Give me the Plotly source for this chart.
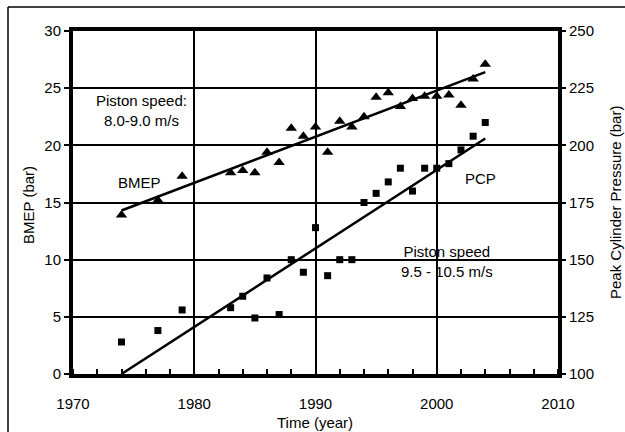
import plotly.graph_objects as go

# ---- data ----
bmep_years = [1974, 1977, 1979, 1983, 1984, 1985, 1986, 1987, 1988, 1989, 1990, 1991,
              1992, 1993, 1994, 1995, 1996, 1997, 1998, 1999, 2000, 2001, 2002, 2003, 2004]
bmep_values = [13.9, 15.2, 17.3, 17.6, 17.8, 17.6, 19.4, 18.5, 21.5, 20.8, 21.6, 19.4,
               22.1, 21.6, 22.5, 24.2, 24.6, 23.4, 24.1, 24.3, 24.3, 24.4, 23.5, 25.8, 27.1]

pcp_years = [1974, 1977, 1979, 1983, 1984, 1985, 1986, 1987, 1988, 1989, 1990, 1991,
             1992, 1993, 1994, 1995, 1996, 1997, 1998, 1999, 2000, 2001, 2002, 2003, 2004]
pcp_values = [114, 119, 128, 129, 134, 124.5, 142, 126, 150, 144.5, 164, 143,
              150, 150, 175, 179, 184, 190, 180, 190, 190, 192, 198, 204, 210]

trend_years = [1974, 2004]
bmep_trend = [14.3, 26.4]
pcp_trend = [100, 203]

x_ticks = [1970, 1980, 1990, 2000, 2010]
bmep_ticks = [0, 5, 10, 15, 20, 25, 30]
pcp_ticks = [100, 125, 150, 175, 200, 225, 250]

FONT = "Liberation Sans, Arial, Helvetica, sans-serif"
W, H = 625, 432
L, R, T, B = 73, 558, 31, 374

fig = go.Figure()
fig.add_trace(go.Scatter(x=trend_years, y=bmep_trend, mode="lines",
                         line=dict(color="black", width=2.5), showlegend=False))
fig.add_trace(go.Scatter(x=bmep_years, y=bmep_values, mode="markers",
                         marker=dict(symbol="triangle-up", size=10, color="black"),
                         showlegend=False))
fig.add_trace(go.Scatter(x=trend_years, y=pcp_trend, mode="lines", yaxis="y2",
                         line=dict(color="black", width=2.5), showlegend=False))
fig.add_trace(go.Scatter(x=pcp_years, y=pcp_values, mode="markers", yaxis="y2",
                         marker=dict(symbol="square", size=7, color="black"),
                         showlegend=False))


def px_x(px):
    return (px - L) / (R - L)


def px_y(py):
    return (B - py) / (B - T)


def dx(px):
    return 1970 + (px - L) * 40 / (R - L)


def dy(py):
    return (B - py) * 30 / (B - T)


annotations = [
    dict(x=dx(141), y=dy(110), text="Piston speed:<br>8.0-9.0 m/s"),
    dict(x=dx(139), y=dy(182), text="BMEP"),
    dict(x=dx(480), y=dy(178), text="PCP"),
    dict(x=dx(447), y=dy(261), text="Piston speed<br>9.5 - 10.5 m/s"),
]
for a in annotations:
    a.update(xref="x", yref="y", showarrow=False, font=dict(size=15, color="black", family=FONT),
             xanchor="center", yanchor="middle")

annotations += [
    dict(x=px_x(28), y=px_y(205), xref="paper", yref="paper", text="BMEP (bar)", textangle=-90,
         showarrow=False, font=dict(size=15, color="black", family=FONT),
         xanchor="center", yanchor="middle"),
    dict(x=px_x(615), y=px_y(203), xref="paper", yref="paper", text="Peak Cylinder Pressure (bar)",
         textangle=-90, showarrow=False, font=dict(size=15, color="black", family=FONT),
         xanchor="center", yanchor="middle"),
    dict(x=px_x(315), y=px_y(422), xref="paper", yref="paper", text="Time (year)",
         showarrow=False, font=dict(size=15, color="black", family=FONT),
         xanchor="center", yanchor="middle"),
]

fig.update_layout(
    width=W, height=H,
    margin=dict(l=L, r=W - R, t=T, b=H - B, pad=0),
    paper_bgcolor="white", plot_bgcolor="white",
    font=dict(family=FONT, size=15, color="black"),
    showlegend=False,
    annotations=annotations,
    xaxis=dict(range=[1970, 2010], tickvals=x_ticks, ticktext=[str(v) for v in x_ticks],
               showgrid=True, gridcolor="black", gridwidth=2,
               showline=True, linecolor="black", linewidth=4, mirror=True,
               ticks="outside", ticklen=0, ticklabelstandoff=13,
               minor=dict(dtick=2, tick0=1970, ticks="inside", ticklen=5, tickcolor="black",
                          tickwidth=1.5, showgrid=False),
               zeroline=False, tickfont=dict(size=15)),
    yaxis=dict(range=[0, 30], tickvals=bmep_ticks,
               showgrid=True, gridcolor="black", gridwidth=2,
               showline=True, linecolor="black", linewidth=4, mirror=True,
               ticks="outside", ticklen=5, tickwidth=1.5, tickcolor="black",
               zeroline=False, tickfont=dict(size=15)),
    yaxis2=dict(range=[100, 250], tickvals=pcp_ticks, overlaying="y", side="right",
                showgrid=False, showline=False, zeroline=False,
                ticks="outside", ticklen=7, tickwidth=1.5, tickcolor="black",
                tickfont=dict(size=15)),
)

# outer figure frame (top and left edges, as in the scanned original)
fig.add_shape(type="line", xref="paper", yref="paper", layer="above",
              x0=px_x(8), x1=px_x(630), y0=px_y(7), y1=px_y(7),
              line=dict(color="black", width=1.5))
fig.add_shape(type="line", xref="paper", yref="paper", layer="above",
              x0=px_x(8), x1=px_x(8), y0=px_y(7), y1=px_y(440),
              line=dict(color="black", width=1.5))

fig.write_html("out.html", config={"displayModeBar": False},
               post_script="document.body.style.margin='0';document.body.style.overflow='hidden';")
